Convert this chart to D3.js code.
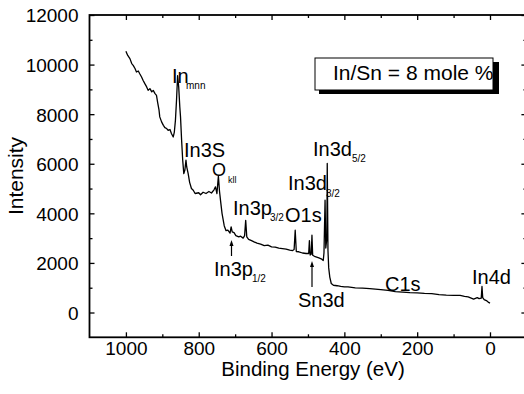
<!DOCTYPE html>
<html><head><meta charset="utf-8">
<script src="https://cdn.jsdelivr.net/npm/d3@7"></script>
<style>
html,body{margin:0;padding:0;background:#fff;}
text{font-family:"Liberation Sans",Arial,Helvetica,sans-serif;fill:#000;}
</style></head>
<body>
<svg id="chart" width="524" height="394"></svg>
<script>
// ---- data (binding energy in eV, intensity counts) ----
const energy = [1000,995,989,984,980,975,971,966,962,957,953,948,943,939,934,929,925,920,916,913,909,907,902,897,893,888,884,879,875,870,867,864,861,858,855,852,850,847,844,841,838,835,833,829,825,820,815,810,800,795,788,780,772,765,758,754,750,746,743,740,736,730,725,720,714,711,708,703,698,690,685,678,674,671,668,663,655,648,640,630,620,610,600,590,580,570,560,550,542,538,535,532,525,515,505,498,496,494,491,489,487,480,470,462,458,456,453,451,448,447,445,443,440,436,430,420,410,400,390,370,350,330,300,280,260,240,220,200,180,160,140,120,100,82,70,60,45,35,30,24,22,20,16,10,5,0];
const intensity = [10540,10370,10240,10040,9970,9840,9700,9740,9630,9500,9370,9230,9100,8960,9030,8900,8960,8830,8760,8490,8160,7890,7690,7550,7460,7420,7350,7380,7220,7080,7280,7750,8560,9550,9100,8300,7890,6950,6140,5600,5750,6150,5870,5600,5250,5000,4930,4800,4830,4750,4850,4800,4880,4820,4950,5070,4800,5500,4900,4500,4000,3500,3300,3320,3200,3450,3250,3220,3100,3050,3080,3000,3100,3720,3050,2950,2900,2850,2800,2760,2700,2720,2650,2640,2600,2580,2560,2520,2500,2540,3320,2460,2450,2400,2380,2380,2900,2320,2350,3120,2310,2250,2200,2150,2100,2400,4530,2600,3000,6010,2500,1800,1430,1170,1100,1080,1050,1030,1030,990,980,960,920,890,840,820,800,790,770,760,720,700,690,690,650,630,540,600,560,580,1050,600,520,480,420,380];
const xMajorTicks = [1000,800,600,400,200,0];
const xMinorTicks = [900,700,500,300,100];
const yMajorTicks = [0,2000,4000,6000,8000,10000,12000];
const yMinorTicks = [1000,3000,5000,7000,9000,11000];
const xTitle = "Binding Energy (eV)";
const yTitle = "Intensity";
const legendText = "In/Sn = 8 mole %";
// peak labels: main text, subscript
const peakLabels = [
  {main:"In", sub:"mnn"},
  {main:"In3S", sub:""},
  {main:"O", sub:"kll"},
  {main:"In3p", sub:"3/2"},
  {main:"O1s", sub:""},
  {main:"In3d", sub:"3/2"},
  {main:"In3d", sub:"5/2"},
  {main:"In3p", sub:"1/2"},
  {main:"Sn3d", sub:""},
  {main:"C1s", sub:""},
  {main:"In4d", sub:""}
];
// layout for labels (pixel placement)
const labelPos = [
  {x:172,y:83,fs:20,sfs:10,sx:186,sy:89},
  {x:184,y:157,fs:20},
  {x:212,y:176,fs:18,sfs:9,sx:228,sy:183},
  {x:233,y:215,fs:20,sfs:10,sx:270,sy:221},
  {x:285,y:222,fs:20},
  {x:288,y:190,fs:20,sfs:10,sx:326,sy:197},
  {x:313,y:156,fs:20,sfs:10,sx:352,sy:162},
  {x:214,y:276,fs:20,sfs:10,sx:252,sy:282},
  {x:298,y:307,fs:20},
  {x:385,y:291,fs:20},
  {x:472,y:284,fs:20}
];

const svg = d3.select("#chart");
const L = 89.5, R = 526.4, T = 15, B = 337.3;
const x = d3.scaleLinear().domain([1100,-100]).range([L,R]);
const y = d3.scaleLinear().domain([-1000,12000]).range([B,T]);

function styleAxis(g){ g.select(".domain").remove(); g.selectAll("line").attr("stroke","#000").attr("stroke-width",1.3); }
svg.append("g").attr("transform",`translate(0,${B})`)
  .call(d3.axisBottom(x).tickValues(xMajorTicks).tickSize(-5).tickFormat(d3.format("d")))
  .call(styleAxis)
  .call(g=>g.selectAll("text").attr("font-size",19).attr("dy","0.71em").attr("y",4));
svg.append("g").attr("transform",`translate(0,${B})`)
  .call(d3.axisBottom(x).tickValues(xMinorTicks).tickSize(-3).tickFormat(""))
  .call(styleAxis);
svg.append("g").attr("transform",`translate(0,${T})`)
  .call(d3.axisTop(x).tickValues(xMajorTicks).tickSize(-5).tickFormat(""))
  .call(styleAxis);
svg.append("g").attr("transform",`translate(0,${T})`)
  .call(d3.axisTop(x).tickValues(xMinorTicks).tickSize(-3).tickFormat(""))
  .call(styleAxis);
svg.append("g").attr("transform",`translate(${L},0)`)
  .call(d3.axisLeft(y).tickValues(yMajorTicks).tickSize(-5).tickPadding(11).tickFormat(d3.format("d")))
  .call(styleAxis)
  .call(g=>g.selectAll("text").attr("font-size",19).attr("dy","0.36em"));
svg.append("g").attr("transform",`translate(${L},0)`)
  .call(d3.axisLeft(y).tickValues(yMinorTicks).tickSize(-3).tickFormat(""))
  .call(styleAxis);
svg.append("g").attr("transform",`translate(${R},0)`)
  .call(d3.axisRight(y).tickValues(yMajorTicks).tickSize(-5).tickFormat(""))
  .call(styleAxis);
svg.append("g").attr("transform",`translate(${R},0)`)
  .call(d3.axisRight(y).tickValues(yMinorTicks).tickSize(-3).tickFormat(""))
  .call(styleAxis);

svg.append("rect").attr("x",L).attr("y",T).attr("width",R-L).attr("height",B-T)
  .attr("fill","none").attr("stroke","#000").attr("stroke-width",1.8);

svg.append("text").attr("x",313).attr("y",376).attr("text-anchor","middle").attr("font-size",20.5).text(xTitle);
svg.append("text").attr("transform","translate(23,176) rotate(-90)").attr("text-anchor","middle").attr("font-size",21).text(yTitle);

const pts = energy.map((e,i)=>[e,intensity[i]]);
svg.append("path").datum(pts)
  .attr("d", d3.line().x(d=>x(d[0])).y(d=>y(d[1])))
  .attr("fill","none").attr("stroke","#000").attr("stroke-width",1.3).attr("stroke-linejoin","round");

peakLabels.forEach((p,i)=>{
  const pos = labelPos[i];
  svg.append("text").attr("x",pos.x).attr("y",pos.y).attr("font-size",pos.fs).text(p.main);
  if(p.sub) svg.append("text").attr("x",pos.sx).attr("y",pos.sy).attr("font-size",pos.sfs).text(p.sub);
});

[[231.5,240,256],[312,261,287]].forEach(a=>{
  svg.append("line").attr("x1",a[0]).attr("x2",a[0]).attr("y1",a[2]).attr("y2",a[1]+3)
    .attr("stroke","#000").attr("stroke-width",1.2);
  svg.append("path").attr("d",`M${a[0]-2},${a[1]+6} L${a[0]},${a[1]} L${a[0]+2},${a[1]+6} Z`).attr("fill","#000");
});

svg.append("rect").attr("x",319).attr("y",62).attr("width",180).attr("height",32).attr("fill","#000");
svg.append("rect").attr("x",315).attr("y",58).attr("width",178).attr("height",32).attr("fill","#fff").attr("stroke","#000").attr("stroke-width",1);
svg.append("text").attr("x",333).attr("y",80).attr("font-size",21).text(legendText);
svg.append("rect").attr("x",493).attr("y",62).attr("width",6).attr("height",32).attr("fill","#000");
</script>
</body></html>
